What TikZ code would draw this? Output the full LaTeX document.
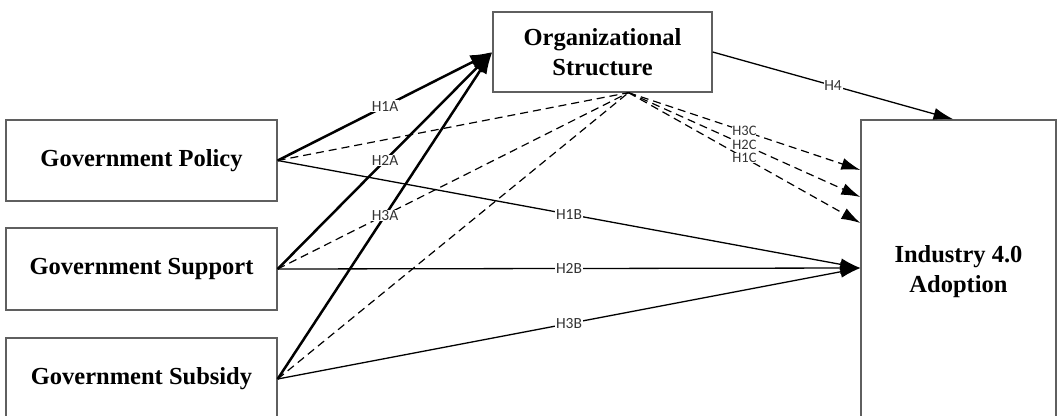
\documentclass[tikz,border=0pt]{standalone}
\usepackage{fontspec}
\setmainfont{Liberation Serif}
\newfontfamily\labfont{Carlito}
\usepackage{tikz}
\usetikzlibrary{arrows.meta,positioning,calc}
\definecolor{BoxGray}{HTML}{5F5F5F}
\definecolor{LabGray}{HTML}{333333}

\begin{document}
\begin{tikzpicture}[x=1pt,y=-1pt,>=Latex,
    var/.style={draw=BoxGray,line width=1.3pt,fill=white,inner sep=0pt,align=center,
      font=\fontsize{24.5}{30}\selectfont\bfseries},
    hyp/.style={font=\labfont\fontsize{15.5}{17}\selectfont,fill=white,inner sep=0.8pt,text=LabGray},
    direct/.style={line width=1.3pt,-{Latex[length=20pt,width=12pt]}},
    strong/.style={line width=2.5pt,-{Latex[length=22pt,width=15pt]}},
    medline/.style={line width=1.2pt,dash pattern=on 8pt off 5pt}]
  \useasboundingbox (0,0) rectangle (1057,415);
  \node[var,minimum width=219pt,minimum height=80pt] (org) at (602.5,52) {Organizational\\Structure};
  \node[var,minimum width=271pt,minimum height=81pt] (policy) at (141.5,160.5) {Government Policy};
  \node[var,minimum width=271pt,minimum height=82pt] (support) at (141.5,269) {Government Support};
  \node[var,minimum width=271pt,minimum height=82pt] (subsidy) at (141.5,379) {Government Subsidy};
  \node[var,minimum width=195pt,minimum height=304pt] (ind) at (958.5,272) {Industry 4.0\\Adoption};
  \coordinate (orgb) at ([xshift=26pt]org.south);
  % paths through the mediator
  \foreach \src in {policy,support,subsidy}
    \draw[medline] (\src.east) -- (orgb);
  \foreach \lab/\dy in {H1C/49,H2C/75,H3C/102}
    \draw[medline,-{Latex[length=19pt,width=12pt]}] (orgb) -- node[hyp,inner sep=0pt,font=\labfont\fontsize{14.5}{15}\selectfont] {\lab} ([yshift=\dy pt]ind.west);
  \foreach \src/\lab in {policy/H1A,support/H2A,subsidy/H3A}
    \draw[strong] (\src.east) -- node[hyp] {\lab} (org.west);
  % direct effects
  \draw[direct] (policy.east) -- node[hyp] {H1B} ([yshift=4pt]ind.west);
  \draw[direct] (support.east) -- node[hyp] {H2B} ([yshift=4pt]ind.west);
  \draw[direct] (subsidy.east) -- node[hyp] {H3B} ([yshift=4pt]ind.west);
  \draw[direct] (org.east) -- node[hyp] {H4} ([xshift=-5pt]ind.north);
\end{tikzpicture}
\end{document}
